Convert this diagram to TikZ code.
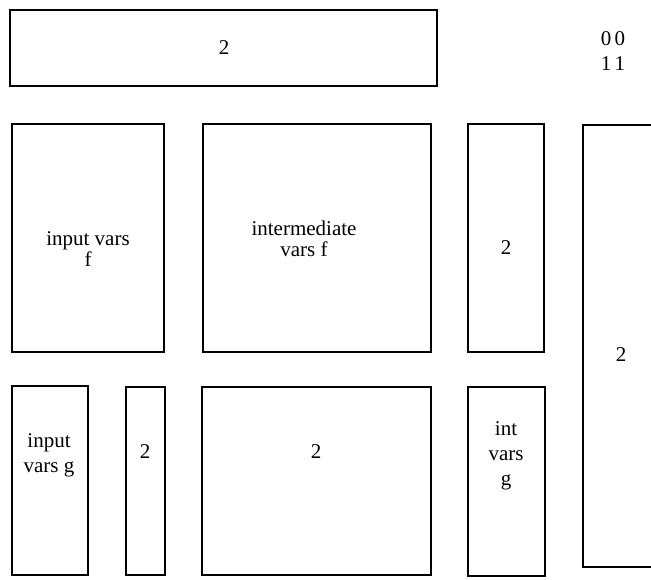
\documentclass[tikz,border=0pt]{standalone}
\usepackage{fontspec}
\setmainfont{Liberation Serif}
\newcommand{\lblfontA}{\fontsize{21}{21}\selectfont}
\newcommand{\lblfontB}{\fontsize{21}{25}\selectfont}
\begin{document}
\begin{tikzpicture}[x=1pt,y=-1pt,
  box/.style={draw=black,line width=1.6pt},
  lbl/.style={font=\lblfontA,inner sep=0pt,align=center},
  lblA/.style={lbl,font=\lblfontA},
  lblB/.style={lbl,font=\lblfontB}]
\useasboundingbox (0,0) rectangle (651,580);
\clip (0,0) rectangle (651,580);
% boxes
\draw[box] (10,10) rectangle (437,86);
\draw[box] (12,124) rectangle (164,352);
\draw[box] (203,124) rectangle (431,352);
\draw[box] (468,124) rectangle (544,352);
\draw[box] (583,125) rectangle (665,567);
\draw[box] (12,386) rectangle (88,575);
\draw[box] (126,387) rectangle (165,575);
\draw[box] (202,387) rectangle (431,575);
\draw[box] (468,387) rectangle (545,576);
% labels
\node[lbl] (t2) at (224,48) {2};
\node[lblB] (bits) at (613,51) {0\,0\\1\,1};
\node[lblA] (ivf) at (88,249) {input vars\\f};
\node[lblA] (imf) at (304,239) {intermediate\\vars f};
\node[lbl] (n2a) at (506,248) {2};
\node[lbl] (n2r) at (621,355) {2};
\node[lblB] (ivg) at (49,455) {input\\vars g};
\node[lbl] (n2b) at (145,452) {2};
\node[lbl] (n2c) at (316,452) {2};
\node[lblB] (ivgg) at (506,456) {int\\vars\\g};
\end{tikzpicture}
\end{document}
